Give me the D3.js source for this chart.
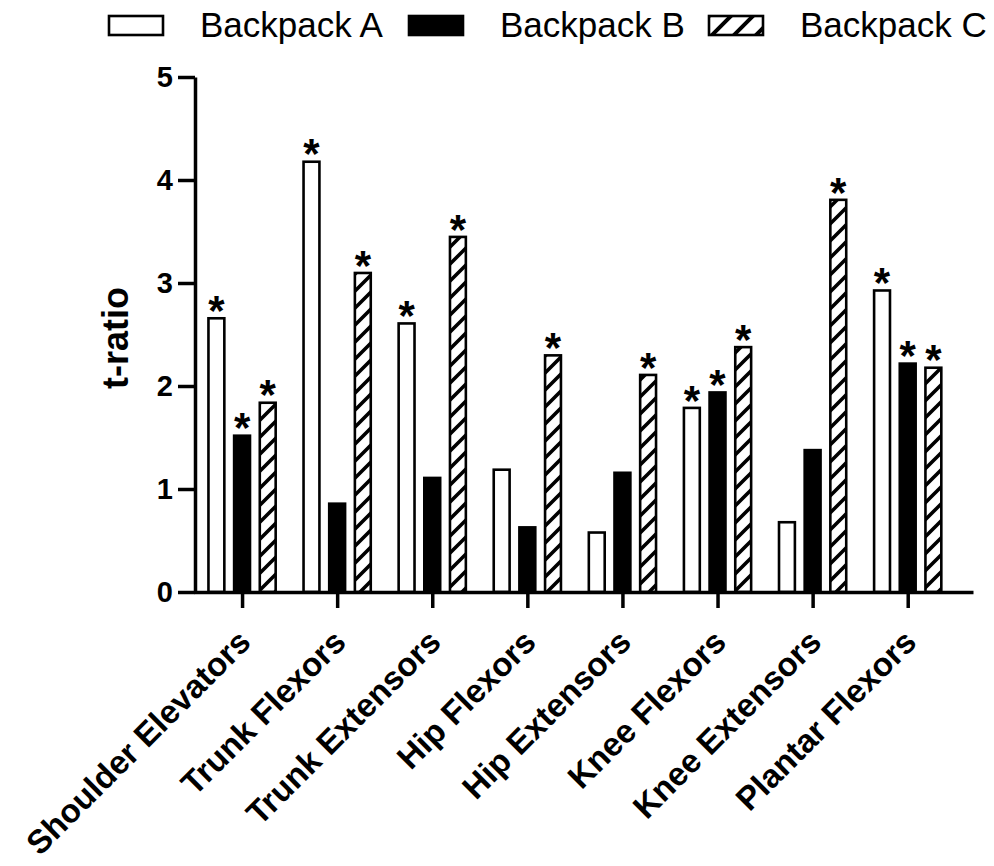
<!DOCTYPE html>
<html>
<head>
<meta charset="utf-8">
<script src="https://cdn.jsdelivr.net/npm/d3@7/dist/d3.min.js"></script>
<style>
  html, body { margin: 0; padding: 0; background: #fff; }
  svg { display: block; }
  text { font-family: Arial, "Liberation Sans", Helvetica, sans-serif; fill: #000; }
</style>
</head>
<body>
<svg id="chart" width="994" height="866"></svg>
<script>
// Muscle groups measured
const categories = ["Shoulder Elevators", "Trunk Flexors", "Trunk Extensors", "Hip Flexors",
                    "Hip Extensors", "Knee Flexors", "Knee Extensors", "Plantar Flexors"];
const seriesNames = ["Backpack A", "Backpack B", "Backpack C"];

// t-ratio for each backpack
const backpackA = [2.67, 4.19, 2.62, 1.20, 0.59, 1.80, 0.69, 2.94];
const backpackB = [1.53, 0.87, 1.12, 0.64, 1.17, 1.95, 1.39, 2.23];
const backpackC = [1.85, 3.11, 3.46, 2.31, 2.12, 2.39, 3.82, 2.19];

// significant differences (marked with *)
const sigA = [true, true, true, false, false, true, false, true];
const sigB = [true, false, false, false, false, true, false, true];
const sigC = [true, true, true, true, true, true, true, true];

const yTicks = [0, 1, 2, 3, 4, 5];

const values = [backpackA, backpackB, backpackC];
const sigs = [sigA, sigB, sigC];

const rows = [];
categories.forEach((c, i) => {
  seriesNames.forEach((s, k) => {
    rows.push({ cat: c, series: s, k, value: values[k][i], sig: sigs[k][i] });
  });
});

const svg = d3.select("#chart");

// patterns for the hatched series
const defs = svg.append("defs");
function hatch(id, size, sw) {
  const p = defs.append("pattern")
    .attr("id", id)
    .attr("patternUnits", "userSpaceOnUse")
    .attr("width", size).attr("height", size);
  p.append("rect").attr("width", size).attr("height", size).attr("fill", "#fff");
  const q = size / 4;
  p.append("path")
    .attr("d", `M0,${size} L${size},0 M${-q},${q} L${q},${-q} M${size - q},${size + q} L${size + q},${size - q}`)
    .attr("stroke", "#000").attr("stroke-width", sw).attr("fill", "none");
}
hatch("hatchBar", 17, 3.6);
hatch("hatchLegend", 22, 4);

const fills = ["#fff", "#000", "url(#hatchBar)"];
const legendFills = ["#fff", "#000", "url(#hatchLegend)"];

const y = d3.scaleLinear().domain([0, 5]).range([592, 77]);
const x0 = d3.scalePoint().domain(categories).range([194, 973]).padding(0.596).align(0.424);
const x1 = d3.scaleBand().domain(seriesNames).range([-38.5, 38.5]).paddingInner(0.28).paddingOuter(0.14);

const sw = 2.6;

// bars
const bars = svg.append("g");
bars.selectAll("rect")
  .data(rows)
  .join("rect")
  .attr("x", d => x0(d.cat) + x1(d.series) + sw / 2)
  .attr("width", x1.bandwidth() - sw)
  .attr("y", d => y(d.value) + sw / 2)
  .attr("height", d => y(0) - y(d.value) - sw / 2)
  .attr("fill", d => fills[d.k])
  .attr("stroke", "#000")
  .attr("stroke-width", sw);

// significance markers
svg.append("g").selectAll("text")
  .data(rows.filter(d => d.sig))
  .join("text")
  .attr("x", d => x0(d.cat) + x1(d.series) + x1.bandwidth() / 2)
  .attr("y", d => y(d.value) + 8)
  .attr("text-anchor", "middle")
  .attr("font-size", 42)
  .attr("font-weight", "bold")
  .text("*");

// y axis
const yAxis = svg.append("g")
  .attr("transform", "translate(195,0)")
  .call(d3.axisLeft(y).tickValues(yTicks).tickFormat(d3.format("d")).tickSize(17).tickSizeOuter(0).tickPadding(5));
yAxis.select(".domain").attr("stroke-width", 3.5);
yAxis.selectAll(".tick line").attr("stroke-width", 3.5);
yAxis.selectAll(".tick text")
  .attr("font-size", 29)
  .attr("font-weight", "bold")
  .attr("font-family", "Arial, 'Liberation Sans', Helvetica, sans-serif")
  .attr("fill", "#000");

// x axis
const xAxis = svg.append("g")
  .attr("transform", `translate(0,${y(0)})`)
  .call(d3.axisBottom(x0).tickSize(16).tickSizeOuter(0));
xAxis.select(".domain").attr("stroke-width", 3.5);
xAxis.selectAll(".tick line").attr("stroke-width", 3.5);
xAxis.selectAll(".tick text")
  .attr("x", 0).attr("y", 0).attr("dy", 0)
  .attr("transform", "translate(10,52) rotate(-45)")
  .attr("text-anchor", "end")
  .attr("font-size", 33)
  .attr("font-weight", "bold")
  .attr("font-family", "Arial, 'Liberation Sans', Helvetica, sans-serif")
  .attr("fill", "#000");

// y axis title
svg.append("text")
  .attr("transform", "translate(128,338) rotate(-90)")
  .attr("text-anchor", "middle")
  .attr("font-size", 36)
  .attr("font-weight", "bold")
  .text("t-ratio");

// legend
const legend = svg.append("g").selectAll("g")
  .data(seriesNames)
  .join("g")
  .attr("transform", (d, i) => `translate(${109 + 300 * i},16)`);
legend.append("rect")
  .attr("width", 54).attr("height", 19)
  .attr("fill", (d, i) => legendFills[i])
  .attr("stroke", "#000").attr("stroke-width", 2.6);
legend.append("text")
  .attr("x", 91).attr("y", 21)
  .attr("font-size", 35)
  .text(d => d);
</script>
</body>
</html>
